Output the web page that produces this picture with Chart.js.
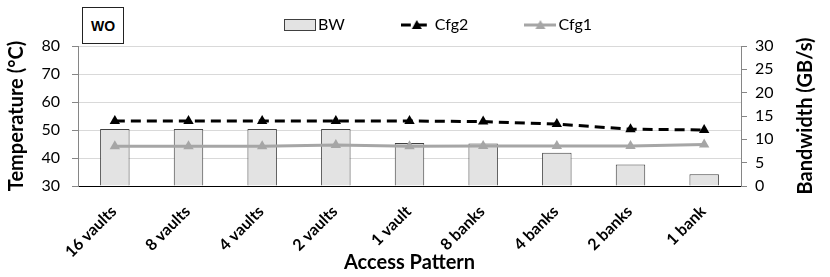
<!DOCTYPE html>
<html lang="en">
<head>
  <meta charset="UTF-8"/>
  <title>WO access pattern</title>
  <script src="https://cdn.jsdelivr.net/npm/chart.js"></script>
  <style>
    body { margin: 0; background: #fff; }
    #wrap { position: relative; width: 830px; height: 277px; }
    #tag {
      position: absolute; left: 82px; top: 7px; width: 40px; height: 35px;
      border: 1px solid #222; font: bold 14px "Liberation Sans", Arial, sans-serif;
      display: flex; align-items: center; justify-content: center; background: #fff;
    }
  </style>
</head>
<body>
  <div id="wrap">
    <canvas id="chart" width="830" height="277"></canvas>
    <div id="tag">WO</div>
  </div>

  <script>
    const patterns = ['16 vaults', '8 vaults', '4 vaults', '2 vaults', '1 vault', '8 banks', '4 banks', '2 banks', '1 bank']
    const bandwidth = [12.2, 12.2, 12.2, 12.2, 9.2, 9.1, 7.1, 4.6, 2.5]
    const cfg2 = [53.2, 53.2, 53.2, 53.2, 53.2, 53.0, 52.1, 50.3, 50.0]
    const cfg1 = [44.2, 44.2, 44.2, 44.6, 44.2, 44.3, 44.3, 44.3, 44.8]
    const tempTicks = [30, 80, 10]   // min, max, step
    const bwTicks = [0, 30, 5]
    const bwTitle = 'Bandwidth (GB/s)'

    const font = 'Lato'
    const barFill = '#e3e3e3'
    const barEdge = '#404040'
    const grayLine = '#a6a6a6'

    // little legend swatches: line + triangle like the office chart
    function swatch(kind) {
      const c = document.createElement('canvas')
      c.width = 32; c.height = 14
      const g = c.getContext('2d')
      if (kind === 'bar') {
        g.fillStyle = barFill
        g.strokeStyle = barEdge
        g.lineWidth = 1
        g.fillRect(0.5, 1.5, 31, 11)
        g.strokeRect(0.5, 1.5, 31, 11)
        return c
      }
      const col = kind === 'cfg2' ? '#000' : grayLine
      g.strokeStyle = col
      g.lineWidth = 3
      if (kind === 'cfg2') g.setLineDash([10, 6])
      g.beginPath(); g.moveTo(0, 7); g.lineTo(32, 7); g.stroke()
      g.fillStyle = col
      g.beginPath(); g.moveTo(16, 2); g.lineTo(21, 11); g.lineTo(11, 11); g.closePath(); g.fill()
      return c
    }
    const swatches = [swatch('bar'), swatch('cfg2'), swatch('cfg1')]

    const nudgeLegend = {
      id: 'nudgeLegend',
      afterLayout(chart) {
        const lg = chart.legend
        lg.left += 26; lg.right += 26
        lg.top -= 3; lg.bottom -= 3
      }
    }

    // right axis title reads bottom-to-top in the original
    const rightTitle = {
      id: 'rightTitle',
      afterDraw(chart) {
        const { ctx, chartArea } = chart
        ctx.save()
        ctx.translate(806, (chartArea.top + chartArea.bottom) / 2)
        ctx.rotate(-Math.PI / 2)
        ctx.textAlign = 'center'
        ctx.textBaseline = 'middle'
        ctx.fillStyle = '#000'
        ctx.font = 'bold 20px ' + font
        ctx.fillText(bwTitle, 0, 0)
        ctx.restore()
      }
    }

    new Chart(document.getElementById('chart'), {
      data: {
        labels: patterns,
        datasets: [
          {
            type: 'bar', label: 'BW', data: bandwidth, yAxisID: 'y1', order: 2,
            backgroundColor: barFill, borderColor: barEdge, borderWidth: 1,
            categoryPercentage: 1, barPercentage: 0.4
          },
          {
            type: 'line', label: 'Cfg2', data: cfg2, yAxisID: 'y', order: 0,
            borderColor: '#000', backgroundColor: '#000', borderWidth: 3, borderDash: [10, 6],
            pointStyle: 'triangle', pointRadius: 6, pointBorderWidth: 0, tension: 0
          },
          {
            type: 'line', label: 'Cfg1', data: cfg1, yAxisID: 'y', order: 1,
            borderColor: grayLine, backgroundColor: grayLine, borderWidth: 3,
            pointStyle: 'triangle', pointRadius: 6, pointBorderWidth: 0, tension: 0
          }
        ]
      },
      options: {
        responsive: false,
        animation: false,
        layout: { padding: { top: -42, left: 0, right: 0, bottom: 0 } },
        plugins: {
          tooltip: { enabled: false },
          legend: {
            position: 'top',
            labels: {
              usePointStyle: true,
              pointStyleWidth: 20,
              padding: 62,
              color: '#000',
              font: { family: font, size: 16 },
              sort: (a, b) => a.datasetIndex - b.datasetIndex,
              generateLabels(chart) {
                return Chart.defaults.plugins.legend.labels.generateLabels(chart).map(it => {
                  it.pointStyle = swatches[it.datasetIndex]
                  return it
                })
              }
            }
          }
        },
        scales: {
          x: {
            grid: { display: true, drawOnChartArea: false, drawTicks: false },
            border: { color: '#000', width: 1 },
            ticks: {
              color: '#000', font: { family: font, size: 16, weight: 'bold' },
              minRotation: 45, maxRotation: 45, padding: 16, labelOffset: -1
            },
            title: {
              display: true, text: 'Access Pattern', color: '#000',
              font: { family: font, size: 20, weight: 'bold' }, padding: { top: 0, bottom: 2 }
            },
            afterFit: s => { s.height = 91 }
          },
          y: {
            position: 'left',
            min: tempTicks[0], max: tempTicks[1],
            ticks: { stepSize: tempTicks[2], color: '#000', padding: 12, font: { family: font, size: 16 } },
            grid: { color: '#d9d9d9', tickColor: '#868686', tickLength: 6 },
            border: { color: '#868686' },
            title: {
              display: true, text: 'Temperature (°C)', color: '#000',
              font: { family: font, size: 20, weight: 'bold' }, padding: { top: 5, bottom: 0 }
            },
            afterFit: s => { s.width = 78 }
          },
          y1: {
            position: 'right',
            min: bwTicks[0], max: bwTicks[1],
            ticks: { stepSize: bwTicks[2], color: '#000', padding: 8, font: { family: font, size: 16 } },
            grid: { drawOnChartArea: false, tickColor: '#868686', tickLength: 6 },
            border: { color: '#868686' },
            afterFit: s => { s.width = 89 }
          }
        }
      },
      plugins: [nudgeLegend, rightTitle]
    })
  </script>
</body>
</html>
